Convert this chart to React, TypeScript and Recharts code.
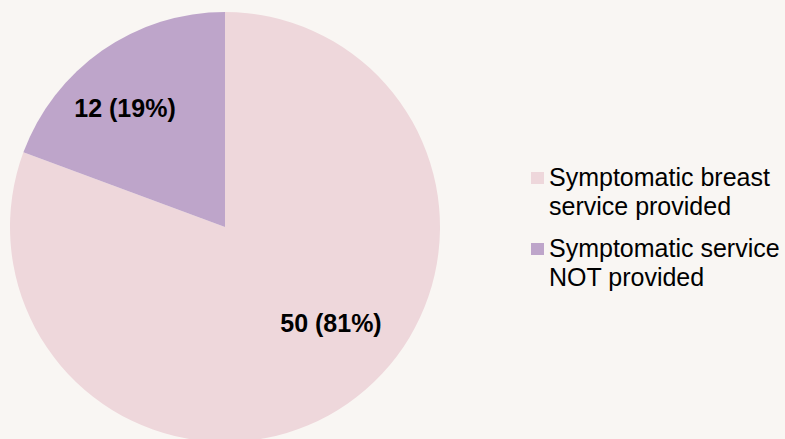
import React from "react";
import { PieChart, Pie, Cell, Legend } from "recharts";

const categories = ["Symptomatic breast service provided", "Symptomatic service NOT provided"];
const counts = [50, 12];
const percents = [81, 19];
const colors = ["#EED7DB", "#BEA5CA"];

const data = categories.map((name, i) => ({ name, value: counts[i], pct: percents[i] }));

const RAD = Math.PI / 180;

const renderLabel = (props: any) => {
  const { cx, cy, midAngle, outerRadius, index } = props;
  const angle = midAngle + (index === 0 ? 13 : 5.2);
  const r = outerRadius * (index === 0 ? 0.665 : 0.723);
  const x = cx + r * Math.cos(-angle * RAD);
  const y = cy + r * Math.sin(-angle * RAD);
  return (
    <text
      x={x}
      y={y}
      textAnchor="middle"
      dominantBaseline="central"
      fontFamily="'Liberation Sans', Arial, sans-serif"
      fontWeight="bold"
      fontSize={25}
      fill="#000"
    >
      {`${data[index].value} (${data[index].pct}%)`}
    </text>
  );
};

const renderLegend = () => (
  <div style={{ fontFamily: "'Liberation Sans', Arial, sans-serif", fontSize: 25, lineHeight: "29px", color: "#000" }}>
    {data.map((d, i) => (
      <div key={d.name} style={{ display: "flex", alignItems: "flex-start", marginBottom: 13 }}>
        <div style={{ width: 13, height: 12, background: colors[i], marginTop: 9, marginRight: 5, flexShrink: 0 }} />
        <div style={{ width: 236 }}>{d.name}</div>
      </div>
    ))}
  </div>
);

export default function App() {
  return (
    <div style={{ position: "fixed", left: 0, top: 0, width: 785, height: 439, background: "#F9F6F3", overflow: "hidden" }}>
      <PieChart width={785} height={439} margin={{ top: 0, right: 0, bottom: 0, left: 0 }}>
        <Pie
          data={data}
          dataKey="value"
          nameKey="name"
          cx={225}
          cy={227}
          outerRadius={215}
          startAngle={90}
          endAngle={-270}
          stroke="none"
          label={renderLabel}
          labelLine={false}
          isAnimationActive={false}
        >
          {data.map((d, i) => (
            <Cell key={d.name} fill={colors[i]} />
          ))}
        </Pie>
        <Legend content={renderLegend} wrapperStyle={{ position: "absolute", left: 531, top: 163, width: 254 }} />
      </PieChart>
    </div>
  );
}
